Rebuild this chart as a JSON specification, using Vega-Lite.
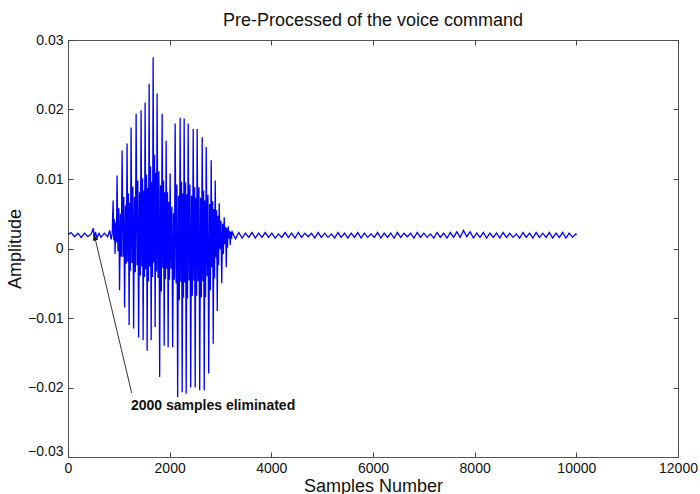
{
  "$schema": "https://vega.github.io/schema/vega-lite/v6.json",
  "width": 610,
  "height": 417,
  "autosize": {"type": "none"},
  "padding": {"left": 68, "top": 40, "right": 22, "bottom": 37},
  "background": "white",
  "config": {
    "font": "Liberation Sans",
    "view": {"stroke": "#555555", "strokeWidth": 1},
    "axis": {"domain": false, "grid": false, "ticks": true, "tickColor": "#444444", "tickWidth": 1, "tickSize": 5, "offset": -5, "labelFontSize": 14, "labelColor": "#111111", "titleColor": "#111111", "titleFontSize": 18, "titleFontWeight": "normal", "labelFlush": false, "labelOverlap": false}
  },
  "title": {"text": "Pre-Processed of the voice command", "fontSize": 18, "fontWeight": "normal", "color": "#111111", "offset": 3, "anchor": "middle"},
  "datasets": {
    "signal": [
      {"sample": 0, "amplitude": 0.0020}, {"sample": 60, "amplitude": 0.0023}, {"sample": 130, "amplitude": 0.0017}, {"sample": 195, "amplitude": 0.0022}, {"sample": 260, "amplitude": 0.0016}, {"sample": 325, "amplitude": 0.0022}, {"sample": 390, "amplitude": 0.0017}, {"sample": 455, "amplitude": 0.0021}, {"sample": 500, "amplitude": 0.0029}, {"sample": 515, "amplitude": 0.0012}, {"sample": 540, "amplitude": 0.0024}, {"sample": 570, "amplitude": 0.0015}, {"sample": 610, "amplitude": 0.0022}, {"sample": 650, "amplitude": 0.0016}, {"sample": 715, "amplitude": 0.0022}, {"sample": 780, "amplitude": 0.0017}, {"sample": 820, "amplitude": 0.0026}, {"sample": 850, "amplitude": 0.0013}, {"sample": 870, "amplitude": 0.0021},
      {"sample": 887, "amplitude": 0.0069}, {"sample": 901, "amplitude": 0.0012}, {"sample": 914, "amplitude": 0.0042}, {"sample": 926, "amplitude": -0.0008}, {"sample": 940, "amplitude": 0.0037}, {"sample": 953, "amplitude": 0.0009},
      {"sample": 965, "amplitude": 0.0105}, {"sample": 983, "amplitude": -0.0004}, {"sample": 1000, "amplitude": 0.0058}, {"sample": 1014, "amplitude": -0.006}, {"sample": 1032, "amplitude": 0.005}, {"sample": 1048, "amplitude": -0.0012},
      {"sample": 1064, "amplitude": 0.0141}, {"sample": 1082, "amplitude": -0.0012}, {"sample": 1098, "amplitude": 0.0074}, {"sample": 1113, "amplitude": -0.0085}, {"sample": 1131, "amplitude": 0.0062}, {"sample": 1146, "amplitude": -0.0022},
      {"sample": 1162, "amplitude": 0.0151}, {"sample": 1176, "amplitude": -0.0019}, {"sample": 1190, "amplitude": 0.0079}, {"sample": 1202, "amplitude": -0.011}, {"sample": 1216, "amplitude": 0.0066}, {"sample": 1228, "amplitude": -0.0032},
      {"sample": 1241, "amplitude": 0.0174}, {"sample": 1259, "amplitude": -0.0021}, {"sample": 1276, "amplitude": 0.0089}, {"sample": 1291, "amplitude": -0.0115}, {"sample": 1308, "amplitude": 0.0074}, {"sample": 1324, "amplitude": -0.0034},
      {"sample": 1340, "amplitude": 0.0194}, {"sample": 1358, "amplitude": -0.0024}, {"sample": 1374, "amplitude": 0.0098}, {"sample": 1389, "amplitude": -0.0128}, {"sample": 1407, "amplitude": 0.0081}, {"sample": 1422, "amplitude": -0.0039},
      {"sample": 1438, "amplitude": 0.0199}, {"sample": 1452, "amplitude": -0.0026}, {"sample": 1466, "amplitude": 0.0101}, {"sample": 1478, "amplitude": -0.0132}, {"sample": 1492, "amplitude": 0.0083}, {"sample": 1504, "amplitude": -0.0041},
      {"sample": 1517, "amplitude": 0.021}, {"sample": 1531, "amplitude": -0.003}, {"sample": 1545, "amplitude": 0.0106}, {"sample": 1557, "amplitude": -0.0147}, {"sample": 1571, "amplitude": 0.0087}, {"sample": 1583, "amplitude": -0.0047},
      {"sample": 1596, "amplitude": 0.0237}, {"sample": 1610, "amplitude": -0.0026}, {"sample": 1624, "amplitude": 0.0118}, {"sample": 1636, "amplitude": -0.0132}, {"sample": 1650, "amplitude": 0.0096}, {"sample": 1662, "amplitude": -0.0041},
      {"sample": 1675, "amplitude": 0.0275}, {"sample": 1689, "amplitude": -0.002}, {"sample": 1702, "amplitude": 0.0135}, {"sample": 1714, "amplitude": -0.0113}, {"sample": 1728, "amplitude": 0.0109}, {"sample": 1741, "amplitude": -0.0033},
      {"sample": 1753, "amplitude": 0.0223}, {"sample": 1771, "amplitude": -0.0042}, {"sample": 1788, "amplitude": 0.0111}, {"sample": 1803, "amplitude": -0.0185}, {"sample": 1820, "amplitude": 0.0091}, {"sample": 1836, "amplitude": -0.0062},
      {"sample": 1852, "amplitude": 0.0194}, {"sample": 1866, "amplitude": -0.0028}, {"sample": 1880, "amplitude": 0.0098}, {"sample": 1892, "amplitude": -0.014}, {"sample": 1906, "amplitude": 0.0081}, {"sample": 1918, "amplitude": -0.0044},
      {"sample": 1931, "amplitude": 0.0155}, {"sample": 1945, "amplitude": -0.0029}, {"sample": 1958, "amplitude": 0.0081}, {"sample": 1970, "amplitude": -0.0142}, {"sample": 1984, "amplitude": 0.0067}, {"sample": 1997, "amplitude": -0.0045},
      {"sample": 2009, "amplitude": 0.0108}, {"sample": 2027, "amplitude": -0.0029}, {"sample": 2044, "amplitude": 0.006}, {"sample": 2059, "amplitude": -0.0142}, {"sample": 2076, "amplitude": 0.0051}, {"sample": 2092, "amplitude": -0.0045},
      {"sample": 2108, "amplitude": 0.018}, {"sample": 2126, "amplitude": -0.005}, {"sample": 2142, "amplitude": 0.0092}, {"sample": 2157, "amplitude": -0.0214}, {"sample": 2175, "amplitude": 0.0076}, {"sample": 2190, "amplitude": -0.0074},
      {"sample": 2206, "amplitude": 0.0188}, {"sample": 2220, "amplitude": -0.0048}, {"sample": 2234, "amplitude": 0.0096}, {"sample": 2246, "amplitude": -0.0207}, {"sample": 2260, "amplitude": 0.0079}, {"sample": 2272, "amplitude": -0.0071},
      {"sample": 2285, "amplitude": 0.0187}, {"sample": 2299, "amplitude": -0.0049}, {"sample": 2313, "amplitude": 0.0095}, {"sample": 2325, "amplitude": -0.0209}, {"sample": 2339, "amplitude": 0.0078}, {"sample": 2351, "amplitude": -0.0072},
      {"sample": 2364, "amplitude": 0.018}, {"sample": 2382, "amplitude": -0.0046}, {"sample": 2399, "amplitude": 0.0092}, {"sample": 2414, "amplitude": -0.02}, {"sample": 2431, "amplitude": 0.0076}, {"sample": 2447, "amplitude": -0.0068},
      {"sample": 2463, "amplitude": 0.0172}, {"sample": 2477, "amplitude": -0.0046}, {"sample": 2490, "amplitude": 0.0088}, {"sample": 2502, "amplitude": -0.02}, {"sample": 2516, "amplitude": 0.0073}, {"sample": 2529, "amplitude": -0.0068},
      {"sample": 2541, "amplitude": 0.0172}, {"sample": 2559, "amplitude": -0.0047}, {"sample": 2576, "amplitude": 0.0088}, {"sample": 2591, "amplitude": -0.0204}, {"sample": 2608, "amplitude": 0.0073}, {"sample": 2624, "amplitude": -0.007},
      {"sample": 2640, "amplitude": 0.016}, {"sample": 2654, "amplitude": -0.0047}, {"sample": 2668, "amplitude": 0.0083}, {"sample": 2680, "amplitude": -0.0204}, {"sample": 2694, "amplitude": 0.0069}, {"sample": 2706, "amplitude": -0.007},
      {"sample": 2719, "amplitude": 0.0146}, {"sample": 2737, "amplitude": -0.004}, {"sample": 2753, "amplitude": 0.0077}, {"sample": 2768, "amplitude": -0.018}, {"sample": 2786, "amplitude": 0.0064}, {"sample": 2801, "amplitude": -0.006},
      {"sample": 2817, "amplitude": 0.0127}, {"sample": 2831, "amplitude": -0.0027}, {"sample": 2845, "amplitude": 0.0068}, {"sample": 2857, "amplitude": -0.0137}, {"sample": 2871, "amplitude": 0.0057}, {"sample": 2883, "amplitude": -0.0043},
      {"sample": 2896, "amplitude": 0.0098}, {"sample": 2910, "amplitude": -0.0013}, {"sample": 2924, "amplitude": 0.0055}, {"sample": 2936, "amplitude": -0.009}, {"sample": 2950, "amplitude": 0.0047}, {"sample": 2962, "amplitude": -0.0024},
      {"sample": 2975, "amplitude": 0.0065}, {"sample": 2993, "amplitude": -0.0001}, {"sample": 3009, "amplitude": 0.004}, {"sample": 3024, "amplitude": -0.005}, {"sample": 3042, "amplitude": 0.0036}, {"sample": 3057, "amplitude": -0.0008},
      {"sample": 3073, "amplitude": 0.0045}, {"sample": 3087, "amplitude": 0.0006}, {"sample": 3101, "amplitude": 0.0031}, {"sample": 3113, "amplitude": -0.0027}, {"sample": 3127, "amplitude": 0.0029}, {"sample": 3139, "amplitude": 0.0001},
      {"sample": 3152, "amplitude": 0.0032}, {"sample": 3166, "amplitude": 0.0015}, {"sample": 3179, "amplitude": 0.0025}, {"sample": 3191, "amplitude": 0.0005}, {"sample": 3205, "amplitude": 0.0024}, {"sample": 3218, "amplitude": 0.0014},
      {"sample": 3230, "amplitude": 0.0024}, {"sample": 3295, "amplitude": 0.0014}, {"sample": 3360, "amplitude": 0.0023}, {"sample": 3425, "amplitude": 0.0015}, {"sample": 3490, "amplitude": 0.0022}, {"sample": 3555, "amplitude": 0.0016}, {"sample": 3620, "amplitude": 0.0023}, {"sample": 3685, "amplitude": 0.0015}, {"sample": 3750, "amplitude": 0.0022}, {"sample": 3815, "amplitude": 0.0016},
      {"sample": 3880, "amplitude": 0.0023}, {"sample": 3945, "amplitude": 0.0016}, {"sample": 4010, "amplitude": 0.0022}, {"sample": 4075, "amplitude": 0.0015}, {"sample": 4140, "amplitude": 0.0021}, {"sample": 4205, "amplitude": 0.0016}, {"sample": 4270, "amplitude": 0.0023}, {"sample": 4335, "amplitude": 0.0016}, {"sample": 4400, "amplitude": 0.0022}, {"sample": 4465, "amplitude": 0.0015},
      {"sample": 4530, "amplitude": 0.0023}, {"sample": 4595, "amplitude": 0.0016}, {"sample": 4660, "amplitude": 0.0022}, {"sample": 4725, "amplitude": 0.0017}, {"sample": 4790, "amplitude": 0.0022}, {"sample": 4855, "amplitude": 0.0015}, {"sample": 4920, "amplitude": 0.0023}, {"sample": 4985, "amplitude": 0.0016}, {"sample": 5050, "amplitude": 0.0022}, {"sample": 5115, "amplitude": 0.0016},
      {"sample": 5180, "amplitude": 0.0021}, {"sample": 5245, "amplitude": 0.0015}, {"sample": 5310, "amplitude": 0.0023}, {"sample": 5375, "amplitude": 0.0016}, {"sample": 5440, "amplitude": 0.0022}, {"sample": 5505, "amplitude": 0.0015}, {"sample": 5570, "amplitude": 0.0022}, {"sample": 5635, "amplitude": 0.0016}, {"sample": 5700, "amplitude": 0.0023}, {"sample": 5765, "amplitude": 0.0015},
      {"sample": 5830, "amplitude": 0.0022}, {"sample": 5895, "amplitude": 0.0016}, {"sample": 5960, "amplitude": 0.0021}, {"sample": 6025, "amplitude": 0.0016}, {"sample": 6090, "amplitude": 0.0023}, {"sample": 6155, "amplitude": 0.0015}, {"sample": 6220, "amplitude": 0.0022}, {"sample": 6285, "amplitude": 0.0016}, {"sample": 6350, "amplitude": 0.0022}, {"sample": 6415, "amplitude": 0.0015},
      {"sample": 6480, "amplitude": 0.0023}, {"sample": 6545, "amplitude": 0.0016}, {"sample": 6610, "amplitude": 0.0022}, {"sample": 6675, "amplitude": 0.0017}, {"sample": 6740, "amplitude": 0.0022}, {"sample": 6805, "amplitude": 0.0015}, {"sample": 6870, "amplitude": 0.0023}, {"sample": 6935, "amplitude": 0.0016}, {"sample": 7000, "amplitude": 0.0022}, {"sample": 7065, "amplitude": 0.0016},
      {"sample": 7130, "amplitude": 0.0021}, {"sample": 7195, "amplitude": 0.0015}, {"sample": 7260, "amplitude": 0.0023}, {"sample": 7325, "amplitude": 0.0016}, {"sample": 7390, "amplitude": 0.0022}, {"sample": 7455, "amplitude": 0.0015}, {"sample": 7520, "amplitude": 0.0023}, {"sample": 7585, "amplitude": 0.0016}, {"sample": 7650, "amplitude": 0.0024}, {"sample": 7715, "amplitude": 0.0016},
      {"sample": 7780, "amplitude": 0.0026}, {"sample": 7845, "amplitude": 0.0017}, {"sample": 7910, "amplitude": 0.0024}, {"sample": 7975, "amplitude": 0.0015}, {"sample": 8040, "amplitude": 0.0022}, {"sample": 8105, "amplitude": 0.0016}, {"sample": 8170, "amplitude": 0.0023}, {"sample": 8235, "amplitude": 0.0015}, {"sample": 8300, "amplitude": 0.0022}, {"sample": 8365, "amplitude": 0.0016},
      {"sample": 8430, "amplitude": 0.0022}, {"sample": 8495, "amplitude": 0.0015}, {"sample": 8560, "amplitude": 0.0023}, {"sample": 8625, "amplitude": 0.0016}, {"sample": 8690, "amplitude": 0.0022}, {"sample": 8755, "amplitude": 0.0016}, {"sample": 8820, "amplitude": 0.0021}, {"sample": 8885, "amplitude": 0.0015}, {"sample": 8950, "amplitude": 0.0023}, {"sample": 9015, "amplitude": 0.0016},
      {"sample": 9080, "amplitude": 0.0022}, {"sample": 9145, "amplitude": 0.0015}, {"sample": 9210, "amplitude": 0.0023}, {"sample": 9275, "amplitude": 0.0016}, {"sample": 9340, "amplitude": 0.0022}, {"sample": 9405, "amplitude": 0.0016}, {"sample": 9470, "amplitude": 0.0023}, {"sample": 9535, "amplitude": 0.0015}, {"sample": 9600, "amplitude": 0.0022}, {"sample": 9665, "amplitude": 0.0016},
      {"sample": 9730, "amplitude": 0.0023}, {"sample": 9795, "amplitude": 0.0015}, {"sample": 9860, "amplitude": 0.0022}, {"sample": 9925, "amplitude": 0.0016}, {"sample": 9990, "amplitude": 0.0021}, {"sample": 10000, "amplitude": 0.0019}
    ],
    "arrow": [{"sample": 1253, "amplitude": -0.0208, "tipSample": 531, "tipAmplitude": 0.0015}],
    "note": [{"sample": 1239, "amplitude": -0.0227, "text": "2000 samples eliminated"}]
  },
  "layer": [
    {
      "data": {"name": "signal"},
      "mark": {"type": "line", "color": "#0000ff", "strokeWidth": 1.3, "clip": true},
      "encoding": {
        "x": {"field": "sample", "type": "quantitative", "scale": {"domain": [0, 12000], "nice": false, "zero": false},
              "axis": {"orient": "bottom", "values": [0, 2000, 4000, 6000, 8000, 10000, 12000], "format": "d", "title": "Samples Number", "labelPadding": 4, "titlePadding": 2}},
        "y": {"field": "amplitude", "type": "quantitative", "scale": {"domain": [-0.03, 0.03], "nice": false, "zero": false},
              "axis": {"orient": "left", "values": [-0.03, -0.02, -0.01, 0, 0.01, 0.02, 0.03], "format": ".2~f", "title": "Amplitude", "labelPadding": 5, "titlePadding": 3,
                       "labelOffset": {"condition": {"test": "datum.value < -0.025", "value": -6}, "value": 0}}}
      }
    },
    {
      "data": {"name": "arrow"},
      "mark": {"type": "rule", "color": "#333333", "strokeWidth": 1},
      "encoding": {
        "x": {"field": "sample", "type": "quantitative", "axis": {"orient": "top", "values": [0, 2000, 4000, 6000, 8000, 10000, 12000], "labels": false, "title": null}},
        "y": {"field": "amplitude", "type": "quantitative", "axis": {"orient": "right", "values": [-0.03, -0.02, -0.01, 0, 0.01, 0.02, 0.03], "labels": false, "title": null}},
        "x2": {"field": "tipSample"},
        "y2": {"field": "tipAmplitude"}
      }
    },
    {
      "data": {"name": "arrow"},
      "mark": {"type": "point", "shape": "triangle-up", "filled": true, "color": "#111111", "opacity": 1, "size": 30, "angle": 347},
      "encoding": {
        "x": {"field": "tipSample", "type": "quantitative", "axis": null},
        "y": {"field": "tipAmplitude", "type": "quantitative", "axis": null}
      }
    },
    {
      "data": {"name": "note"},
      "mark": {"type": "text", "align": "left", "baseline": "middle", "fontSize": 14, "fontWeight": "bold", "color": "#111111"},
      "encoding": {
        "x": {"field": "sample", "type": "quantitative", "axis": null},
        "y": {"field": "amplitude", "type": "quantitative", "axis": null},
        "text": {"field": "text"}
      }
    }
  ],
  "resolve": {"axis": {"x": "independent", "y": "independent"}}
}
